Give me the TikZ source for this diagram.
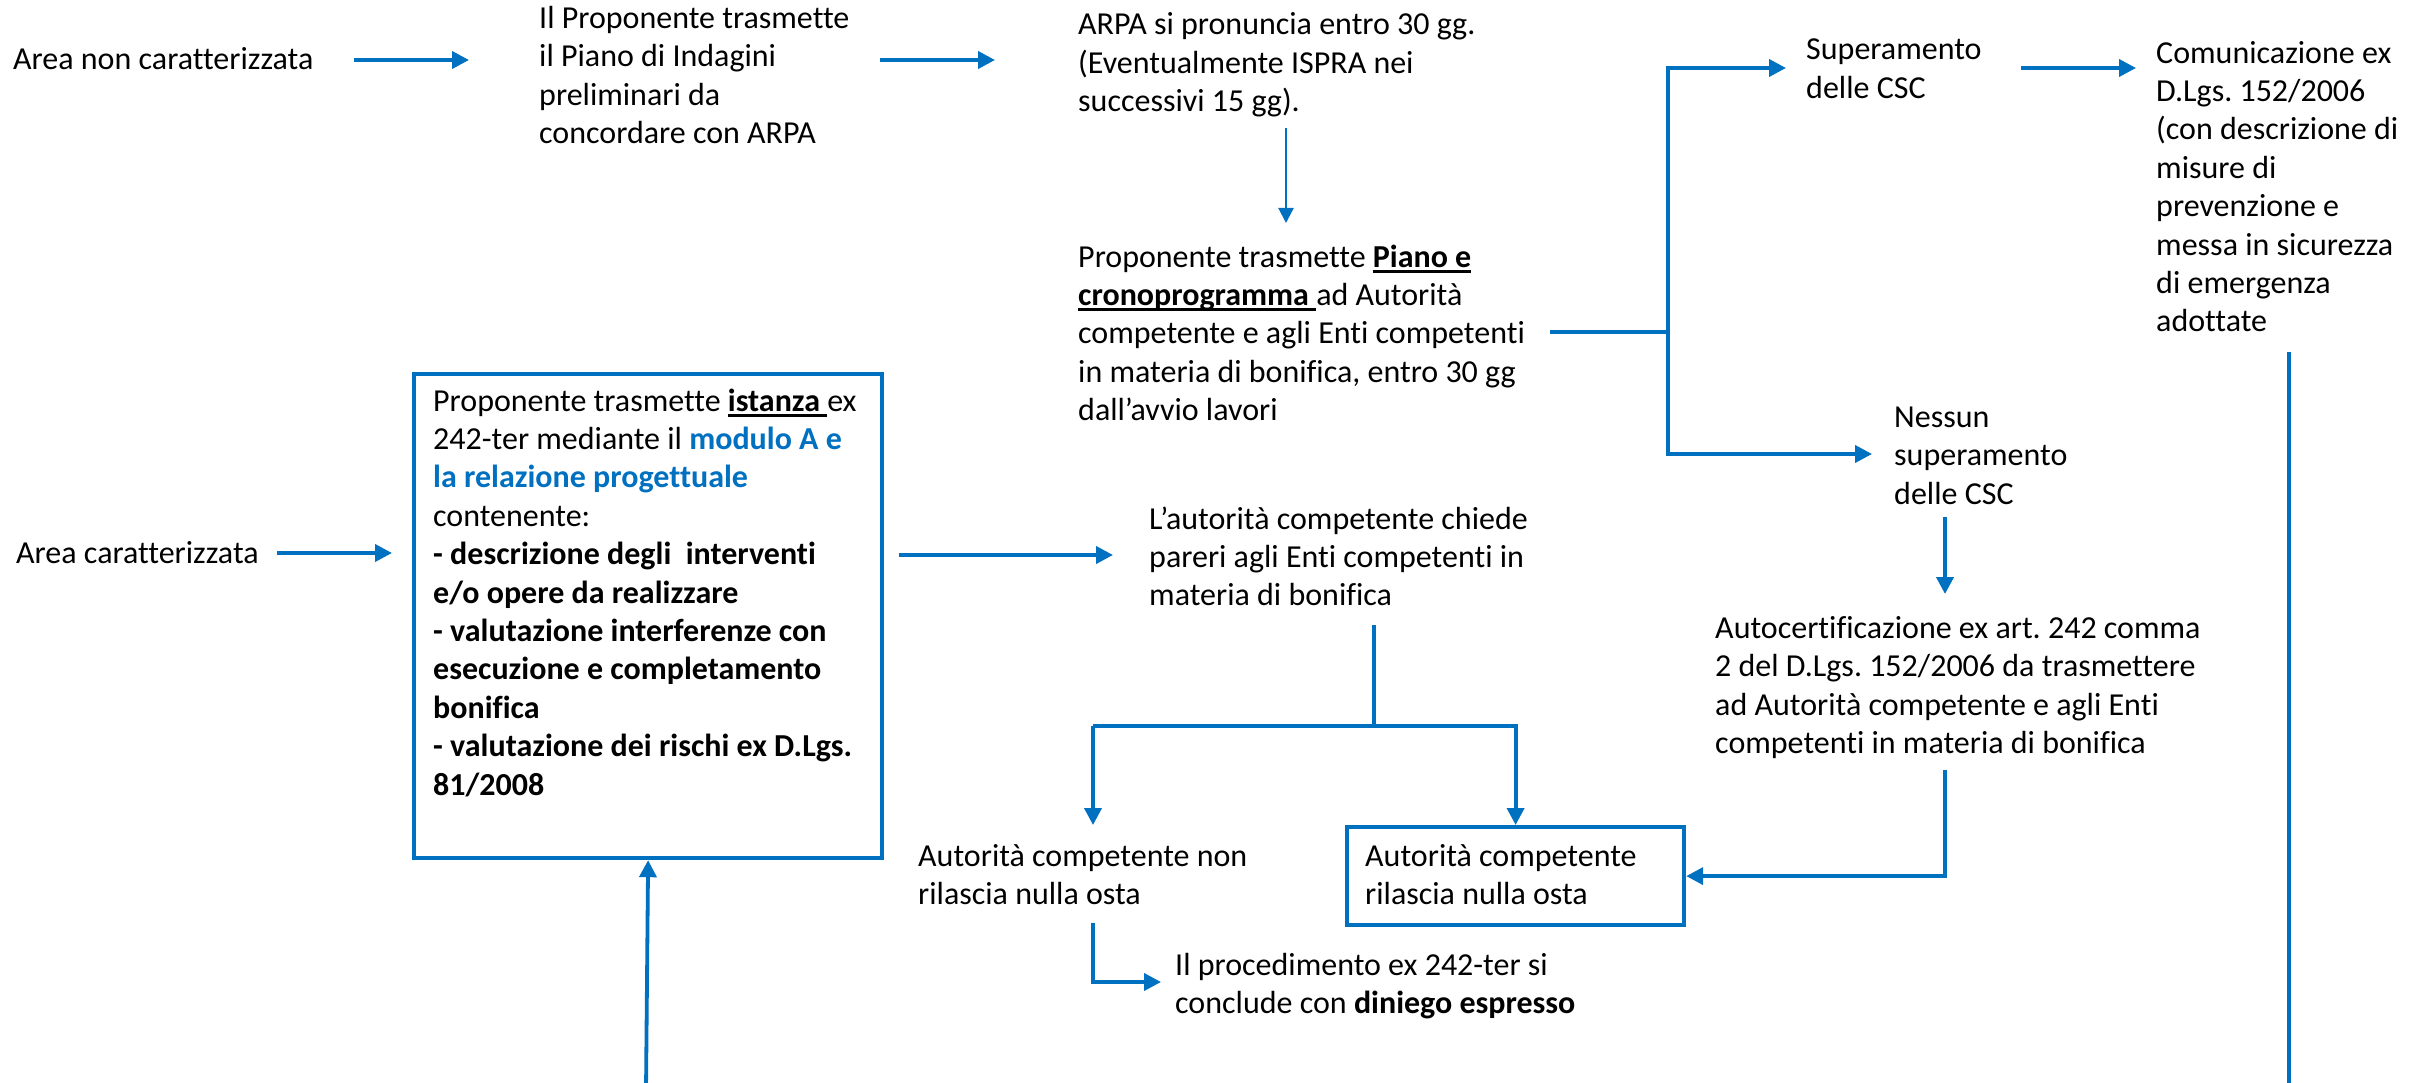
\documentclass[tikz,border=0pt]{standalone}
\usepackage{fontspec}
\setmainfont{Carlito}[Ligatures={NoCommon}]
\usetikzlibrary{arrows.meta}
\definecolor{myblue}{HTML}{0070C0}
\newcommand\fsz{\fontsize{32}{38.4}\selectfont\frenchspacing}
\newcommand\ulx[1]{\setbox0=\hbox{#1}\rlap{\rule[-5.5pt]{\wd0}{2.5pt}}\box0}
\begin{document}
\begin{tikzpicture}[x=1pt,y=-1pt,
  line/.style={draw=myblue, line width=3.8pt},
  arr/.style={line, -{Triangle[length=17pt,width=17pt]}},
  thinarr/.style={draw=myblue, line width=2.2pt, -{Triangle[length=15pt,width=15pt]}},
  txt/.style={anchor=base west, align=left, inner sep=0pt, font=\fsz},
  frame/.style={draw=myblue, line width=4.2pt, inner sep=0pt, anchor=north west}]
\fill[white] (0,0) rectangle (2427,1083);
\useasboundingbox (0,0) rectangle (2427,1083);

% text nodes (anchored at the baseline of their last line)
\node[txt] (n1) at (13,70) {Area non caratterizzata};
\node[txt] (n2) at (539,143.7) {Il Proponente trasmette\\il Piano di Indagini\\preliminari da\\concordare con ARPA};
\node[txt] (n3) at (1078,111.8) {ARPA si pronuncia entro 30 gg.\\(Eventualmente ISPRA nei\\successivi 15 gg).};
\node[txt] (n4) at (1078,420.6) {Proponente trasmette \ulx{\textbf{Piano e}}\\\ulx{\textbf{cronoprogramma }}ad Autorità\\competente e agli Enti competenti\\in materia di bonifica, entro 30 gg\\dall’avvio lavori};
\node[txt] (n5) at (1806,98.4) {Superamento\\delle CSC};
\node[txt] (n6) at (2156,331.8) {Comunicazione ex\\D.Lgs. 152/2006\\(con descrizione di\\misure di\\prevenzione e\\messa in sicurezza\\di emergenza\\adottate};
\node[txt] (n7) at (1894,504.3) {Nessun\\superamento\\delle CSC};
\node[txt] (n8) at (1715,753.7) {Autocertificazione ex art. 242 comma\\2 del D.Lgs. 152/2006 da trasmettere\\ad Autorità competente e agli Enti\\competenti in materia di bonifica};
\node[txt] (n9) at (16,563) {Area caratterizzata};
\node[frame, minimum width=468pt, minimum height=484pt] (boxA) at (412,372) {};
\node[txt] (n10) at (433,795) {Proponente trasmette \ulx{\textbf{istanza }}ex\\242-ter mediante il \textcolor{myblue}{\textbf{modulo A e}}\\\textcolor{myblue}{\textbf{la relazione progettuale}}\\contenente:\\\textbf{- descrizione degli~ interventi}\\\textbf{e/o opere da realizzare}\\\textbf{- valutazione interferenze con}\\\textbf{esecuzione e completamento}\\\textbf{bonifica}\\\textbf{- valutazione dei rischi ex D.Lgs.}\\\textbf{81/2008}};
\node[txt] (n11) at (1149,605.8) {L’autorità competente chiede\\pareri agli Enti competenti in\\materia di bonifica};
\node[txt] (n12) at (918,904.4) {Autorità competente non\\rilascia nulla osta};
\node[frame, minimum width=337pt, minimum height=98pt] (boxB) at (1345,825) {};
\node[txt] (n13) at (1365,904.4) {Autorità competente\\rilascia nulla osta};
\node[txt] (n14) at (1175,1013.4) {Il procedimento ex 242-ter si\\conclude con \textbf{diniego espresso}};

% connector points
\coordinate (a1s) at (354,60);   \coordinate (a1e) at (469,60);
\coordinate (a2s) at (880,60);   \coordinate (a2e) at (995,60);
\coordinate (a3s) at (1286,128); \coordinate (a3e) at (1286,223);
\coordinate (a4s) at (1550,332); \coordinate (j1) at (1668,332);
\coordinate (a5e) at (1786,68);  \coordinate (a6e) at (1872,454);
\coordinate (a7s) at (2021,68);  \coordinate (a7e) at (2136,68);
\coordinate (l8s) at (2289,352); \coordinate (l8e) at (2289,1090);
\coordinate (a9s) at (1945,517); \coordinate (a9e) at (1945,594);
\coordinate (a10s) at (1945,770);
\coordinate (a11s) at (277,553); \coordinate (a11e) at (392,553);
\coordinate (a12s) at (899,555); \coordinate (a12e) at (1113,555);
\coordinate (a13s) at (1374,625); \coordinate (j2) at (1374,726);
\coordinate (j2l) at (1093,726);  \coordinate (a13e) at (1093,825);
\coordinate (a14s) at (1093,923); \coordinate (a14e) at (1161,982);
\coordinate (a15s) at (646,1090);

% connectors
\draw[arr] (a1s) -- (a1e);
\draw[arr] (a2s) -- (a2e);
\draw[thinarr] (a3s) -- (a3e);
\draw[line] (a4s) -- (j1);
\draw[arr] (j1) |- (a5e);
\draw[arr] (j1) |- (a6e);
\draw[arr] (a7s) -- (a7e);
\draw[line] (l8s) -- (l8e);
\draw[arr] (a9s) -- (a9e);
\draw[arr] (a10s) |- (boxB.east);
\draw[arr] (a11s) -- (a11e);
\draw[arr] (a12s) -- (a12e);
\draw[line] (a13s) -- (j2);
\draw[arr] (j2l) -- (a13e);
\draw[arr] (j2l) -| (boxB.north);
\draw[arr] (a14s) |- (a14e);
\draw[arr] (a15s) -- (boxA.south);
\end{tikzpicture}
\end{document}
